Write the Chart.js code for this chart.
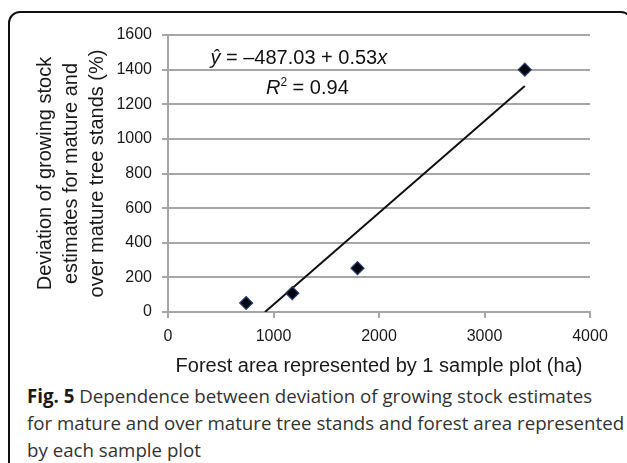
<!DOCTYPE html>
<html>
<head>
<meta charset="utf-8">
<script src="https://cdn.jsdelivr.net/npm/chart.js@4.4.0/dist/chart.umd.min.js"></script>
<style>
  html, body { margin: 0; padding: 0; width: 627px; height: 463px; overflow: hidden; background: #fff; }
  #frame { position: absolute; left: 8px; top: 11px; width: 625px; height: 520px; border: 2px solid #111; border-radius: 12px; box-sizing: border-box; }
  #wrap { position: absolute; left: 0; top: 0; width: 627px; height: 380px; }
  #caption { position: absolute; left: 27px; top: 382px; font-family: 'Open Sans', sans-serif; font-size: 18.7px; line-height: 27px; color: #333; white-space: nowrap; }
  #caption b { color: #1a1a1a; }
</style>
</head>
<body>
<div id="frame"></div>
<div id="wrap"><canvas id="c"></canvas></div>
<div id="caption"><b>Fig. 5</b> Dependence between deviation of growing stock estimates<br>for mature and over mature tree stands and forest area represented<br>by each sample plot</div>
<script>
// Observed points
const areaHa = [741, 1178, 1796, 3382];
const deviationPct = [52, 109, 253, 1400];
// Regression line endpoints (y = -487.03 + 0.53x)
const trendX = [919, 3382];
const trendY = [0, 1305];
// Axis ranges / ticks
const xTicks = [0, 1000, 2000, 3000, 4000];
const yTicks = [0, 200, 400, 600, 800, 1000, 1200, 1400, 1600];
const yTitle = ['Deviation of growing stock', 'estimates for mature and', 'over mature tree stands (%)'];
const xTitle = 'Forest area represented by 1 sample plot (ha)';

const FONT = "'Liberation Sans', Arial, sans-serif";

const annot = {
  id: 'annot',
  afterDatasetsDraw(chart) {
    const ctx = chart.ctx;
    const xs = chart.scales.x, ys = chart.scales.y;
    ctx.save();
    ctx.fillStyle = '#111';
    ctx.textBaseline = 'middle';
    // equation
    const parts = [
      { t: 'ŷ', f: 'italic 20px ' + FONT },
      { t: ' = \u2013487.03 + 0.53', f: '20px ' + FONT },
      { t: 'x', f: 'italic 20px ' + FONT }
    ];
    let w = 0;
    parts.forEach(p => { ctx.font = p.f; p.w = ctx.measureText(p.t).width; w += p.w; });
    let x = xs.getPixelForValue(1240) - w / 2;
    const y1 = ys.getPixelForValue(1462);
    ctx.textAlign = 'left';
    parts.forEach(p => { ctx.font = p.f; ctx.fillText(p.t, x, y1); x += p.w; });
    // R^2
    const r = [
      { t: 'R', f: 'italic 20px ' + FONT, dy: 0 },
      { t: '2', f: '12px ' + FONT, dy: -6 },
      { t: ' = 0.94', f: '20px ' + FONT, dy: 0 }
    ];
    w = 0;
    r.forEach(p => { ctx.font = p.f; p.w = ctx.measureText(p.t).width; w += p.w; });
    x = xs.getPixelForValue(1321) - w / 2;
    const y2 = ys.getPixelForValue(1292);
    r.forEach(p => { ctx.font = p.f; ctx.fillText(p.t, x, y2 + p.dy); x += p.w; });
    ctx.restore();
  }
};

new Chart(document.getElementById('c'), {
  type: 'scatter',
  data: {
    datasets: [
      {
        type: 'line',
        data: trendX.map((v, i) => ({ x: v, y: trendY[i] })),
        borderColor: '#111',
        borderWidth: 2,
        pointRadius: 0,
        fill: false,
        order: 2
      },
      {
        data: areaHa.map((v, i) => ({ x: v, y: deviationPct[i] })),
        pointStyle: 'rectRot',
        pointRadius: 6.5,
        backgroundColor: '#05060f',
        borderColor: '#2a4070',
        borderWidth: 1.2,
        order: 1
      }
    ]
  },
  plugins: [annot],
  options: {
    responsive: true,
    maintainAspectRatio: false,
    animation: false,
    layout: { padding: { left: 0, right: 37, top: 35, bottom: 0 } },
    plugins: { legend: { display: false }, tooltip: { enabled: false } },
    scales: {
      x: {
        type: 'linear',
        min: xTicks[0], max: xTicks[xTicks.length - 1],
        afterBuildTicks: s => { s.ticks = xTicks.map(v => ({ value: v })); },
        afterFit: s => { s.height = 68; },
        grid: { drawOnChartArea: false, color: '#a6a6a6', lineWidth: 2, tickLength: 6 },
        border: { color: '#a6a6a6', width: 2 },
        ticks: { font: { family: FONT, size: 16 }, color: '#1a1a1a', padding: 9, maxRotation: 0, callback: v => String(v) },
        title: { display: true, text: xTitle, font: { family: FONT, size: 20, lineHeight: 1.2 }, color: '#1a1a1a', padding: { top: 0, bottom: 2 } }
      },
      y: {
        type: 'linear',
        min: yTicks[0], max: yTicks[yTicks.length - 1],
        afterBuildTicks: s => { s.ticks = yTicks.map(v => ({ value: v })); },
        afterFit: s => { s.width = 168; },
        grid: { color: '#a6a6a6', lineWidth: 2, tickLength: 6 },
        border: { color: '#a6a6a6', width: 2 },
        ticks: { font: { family: FONT, size: 16 }, color: '#1a1a1a', padding: 10, callback: v => String(v) },
        title: { display: true, text: yTitle, font: { family: FONT, size: 20, lineHeight: 1.3 }, color: '#1a1a1a', padding: { top: 32, bottom: 0 } }
      }
    }
  }
});
</script>
</body>
</html>
